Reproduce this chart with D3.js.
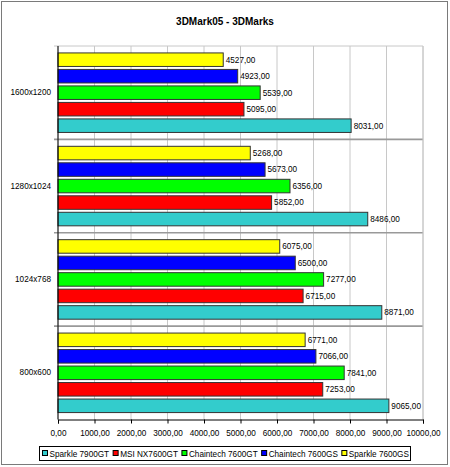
<!DOCTYPE html>
<html>
<head>
<meta charset="utf-8">
<script src="https://cdn.jsdelivr.net/npm/d3@7"></script>
<style>
  body { margin: 0; background: #fff; }
  svg { display: block; font-family: 'Liberation Sans', Arial, sans-serif; }
</style>
</head>
<body>
<svg id="chart" width="450" height="467"></svg>
<script>
// resolutions, top to bottom
const categories = ['1600x1200', '1280x1024', '1024x768', '800x600']
// legend order
const seriesNames = ['Sparkle 7900GT', 'MSI NX7600GT', 'Chaintech 7600GT', 'Chaintech 7600GS', 'Sparkle 7600GS']
const seriesColors = ['#33CCCC', '#FF0000', '#00FF00', '#0000FF', '#FFFF00']
const sparkle7900 = [8031, 8486, 8871, 9065]
const msi7600gt = [5095, 5852, 6715, 7253]
const chaintech7600gt = [5539, 6356, 7277, 7841]
const chaintech7600gs = [4923, 5673, 6500, 7066]
const sparkle7600gs = [4527, 5268, 6075, 6771]
const xTicks = [0, 1000, 2000, 3000, 4000, 5000, 6000, 7000, 8000, 9000, 10000]

const seriesValues = [sparkle7900, msi7600gt, chaintech7600gt, chaintech7600gs, sparkle7600gs]

const svg = d3.select('#chart')
const fmt = v => d3.format('.2f')(v).replace('.', ',')
const fs = '8.2px'

const plot = { left: 58, right: 423, top: 46, bottom: 419.5 }

// outer frame
svg.append('rect')
  .attr('x', 1.5).attr('y', 1.5)
  .attr('width', 446).attr('height', 463)
  .attr('fill', '#fff')
  .attr('stroke', '#7a7a7a')

svg.append('text')
  .attr('x', 225).attr('y', 25)
  .attr('text-anchor', 'middle')
  .style('font-size', '10px')
  .style('font-weight', 'bold')
  .text('3DMark05 - 3DMarks')

const xScale = d3.scaleLinear().domain([0, 10000]).range([plot.left, plot.right])
const yScale = d3.scaleBand().domain(categories).range([plot.top, plot.bottom])
// bars drawn top to bottom in reverse legend order
const inner = d3.scaleBand()
  .domain(seriesNames.slice().reverse())
  .range([0, yScale.bandwidth()])
  .paddingInner(0.18)
  .paddingOuter(0.42)

// vertical gridlines
svg.append('g')
  .selectAll('line')
  .data(xTicks)
  .join('line')
  .attr('x1', d => xScale(d)).attr('x2', d => xScale(d))
  .attr('y1', plot.top).attr('y2', plot.bottom)
  .attr('stroke', '#c8c8c8')

// category separators
svg.append('g')
  .selectAll('line')
  .data(categories)
  .join('line')
  .attr('x1', plot.left - 4).attr('x2', plot.right)
  .attr('y1', d => yScale(d)).attr('y2', d => yScale(d))
  .attr('stroke', d => (d === categories[0] ? '#c8c8c8' : '#999'))
  .attr('stroke-width', d => (d === categories[0] ? 1 : 1.6))

// plot border right side
svg.append('line')
  .attr('x1', plot.right).attr('x2', plot.right)
  .attr('y1', plot.top).attr('y2', plot.bottom)
  .attr('stroke', '#c8c8c8')

const rows = []
categories.forEach((c, ci) => {
  seriesNames.forEach((s, si) => {
    rows.push({ cat: c, name: s, value: seriesValues[si][ci], color: seriesColors[si] })
  })
})

const bars = svg.append('g')
bars.selectAll('rect')
  .data(rows)
  .join('rect')
  .attr('x', xScale(0))
  .attr('y', d => yScale(d.cat) + inner(d.name))
  .attr('width', d => xScale(d.value) - xScale(0))
  .attr('height', inner.bandwidth())
  .attr('fill', d => d.color)
  .attr('stroke', '#333')
  .attr('stroke-width', 1)

bars.selectAll('text')
  .data(rows)
  .join('text')
  .attr('x', d => xScale(d.value) + 2.5)
  .attr('y', d => yScale(d.cat) + inner(d.name) + inner.bandwidth() / 2)
  .attr('dy', '0.35em')
  .style('font-size', fs)
  .style('fill', '#000')
  .text(d => fmt(d.value))

// x axis
const xAxis = d3.axisBottom(xScale).tickValues(xTicks).tickSize(4).tickPadding(7).tickFormat(fmt)
const gx = svg.append('g')
  .attr('transform', `translate(0,${plot.bottom})`)
  .call(xAxis)
gx.select('.domain').attr('stroke', '#000')
gx.selectAll('.tick line').attr('stroke', '#000')
gx.selectAll('text').style('font-size', fs).style('font-family', 'Liberation Sans, Arial, sans-serif')

// y axis
const yAxis = d3.axisLeft(yScale).tickSize(0).tickPadding(7)
const gy = svg.append('g')
  .attr('transform', `translate(${plot.left},0)`)
  .call(yAxis)
gy.select('.domain').attr('stroke', '#000').attr('d', `M0,${plot.top}V${plot.bottom}`)
gy.selectAll('text').style('font-size', fs).style('font-family', 'Liberation Sans, Arial, sans-serif')

// legend
const legend = svg.append('g')
legend.append('rect')
  .attr('x', 39.5).attr('y', 446.5)
  .attr('width', 371).attr('height', 14)
  .attr('fill', '#fff')
  .attr('stroke', '#000')

let lx = 42
seriesNames.forEach((s, i) => {
  legend.append('rect')
    .attr('x', lx + 0.5).attr('y', 450.5)
    .attr('width', 5).attr('height', 5)
    .attr('fill', seriesColors[i])
    .attr('stroke', '#000')
  const t = legend.append('text')
    .attr('x', lx + 7.5).attr('y', 456.5)
    .style('font-size', fs)
    .text(s)
  lx += 7.5 + t.node().getComputedTextLength() + 3.5
})
</script>
</body>
</html>
